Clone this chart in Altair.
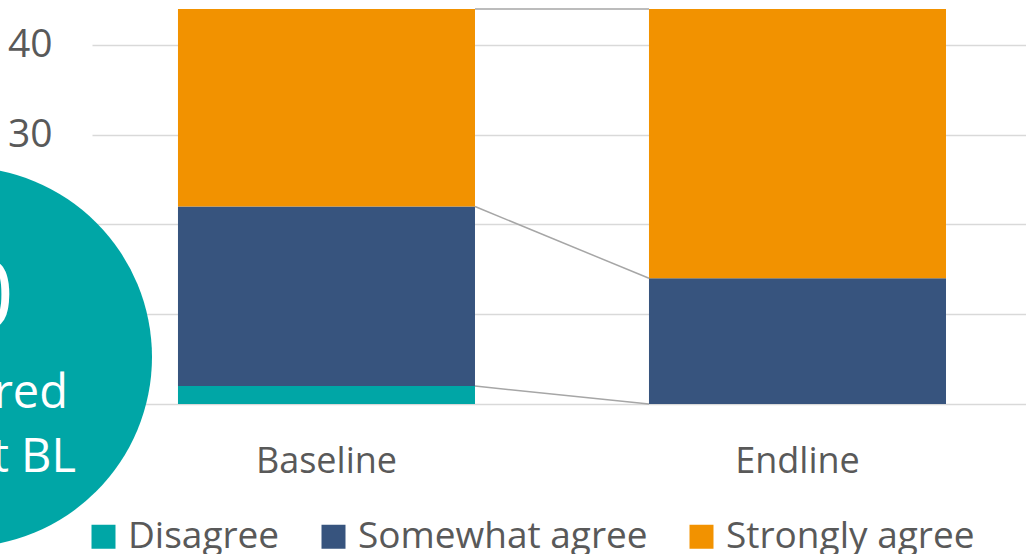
import altair as alt
import pandas as pd

# Survey waves and response categories
waves = ["Baseline", "Endline"]
responses = ["Disagree", "Somewhat agree", "Strongly agree"]
baseline_counts = [2, 20, 22]
endline_counts = [0, 14, 30]
palette = ["#00A6A6", "#37547E", "#F29200"]

y_ticks = [0, 10, 20, 30, 40]

# Call-out bubble text (one entry per line)
callout_lines = ["0", "red", "t BL"]

FONT = "Open Sans"
TEXT_GREY = "#595959"

# Long table for the stacked bars
rows = []
for wave, counts in zip(waves, [baseline_counts, endline_counts]):
    for rank, (resp, cnt) in enumerate(zip(responses, counts)):
        rows.append({"wave": wave, "response": resp, "count": cnt, "rank": rank})
bars_df = pd.DataFrame(rows)

# Series lines joining the top of each segment between the two bars
def cumulative(vals):
    out, s = [], 0
    for v in vals:
        s += v
        out.append(s)
    return out

conn_df = pd.DataFrame({
    "start_wave": [waves[0]] * len(responses),
    "end_wave": [waves[1]] * len(responses),
    "start_top": cumulative(baseline_counts),
    "end_top": cumulative(endline_counts),
})

total = sum(baseline_counts)

x_scale = alt.Scale(domain=waves, paddingInner=0.3694, paddingOuter=0.1762, align=0.518)
y_scale = alt.Scale(domain=[0, total], nice=False, zero=True)

x_axis = alt.Axis(
    title=None, labelAngle=0, labelFont=FONT, labelFontSize=36, labelColor=TEXT_GREY,
    labelBaseline="alphabetic", labelPadding=68, ticks=False, tickSize=0, domain=False,
    grid=False,
)
y_axis = alt.Axis(
    title=None, values=y_ticks, labelFont=FONT, labelFontSize=39, labelColor=TEXT_GREY,
    labelPadding=40, ticks=False, tickSize=0, domain=False, grid=True,
    gridColor="#D9D9D9", gridWidth=1.5,
)
legend = alt.Legend(
    title=None, orient="none", legendX=-7, legendY=509, direction="horizontal",
    symbolType="square", symbolSize=576, symbolStrokeWidth=0,
    labelFont=FONT, labelFontSize=37, labelColor=TEXT_GREY, labelOffset=6,
    columnPadding=35, padding=0, labelLimit=500,
)

bars = alt.Chart(bars_df).mark_bar().encode(
    x=alt.X("wave:N", scale=x_scale, axis=x_axis, sort=waves),
    y=alt.Y("count:Q", stack="zero", scale=y_scale, axis=y_axis),
    color=alt.Color("response:N", scale=alt.Scale(domain=responses, range=palette), legend=legend),
    order=alt.Order("rank:Q", sort="ascending"),
)

connectors = alt.Chart(conn_df).mark_rule(color="#A6A6A6", strokeWidth=1.5).encode(
    x=alt.X("start_wave:N", bandPosition=1),
    x2=alt.X2("end_wave", bandPosition=0),
    y=alt.Y("start_top:Q"),
    y2=alt.Y2("end_top"),
)

# Call-out bubble: Vega circle symbols have diameter sqrt(size)
bubble_df = pd.DataFrame({"k": [0]})
bubble = alt.Chart(bubble_df).mark_circle(
    size=380 * 380, color=palette[0], opacity=1, strokeWidth=0
).encode(x=alt.value(-130), y=alt.value(348))

line_specs = [(-78, 319, 95), (-24, 399, 47), (-16, 463, 47)]
texts = []
for line, (tx, ty, fs) in zip(callout_lines, line_specs):
    texts.append(
        alt.Chart(bubble_df).mark_text(
            align="right", baseline="alphabetic", font=FONT, fontSize=fs, color="white"
        ).encode(x=alt.value(tx), y=alt.value(ty), text=alt.value(line))
    )

chart = alt.layer(bars, connectors, bubble, *texts).properties(
    width=934,
    height=395,
    autosize=alt.AutoSizeParams(type="none"),
    padding={"left": 92, "top": 9, "right": 0, "bottom": 150},
    background="white",
).configure_view(stroke=None)

chart.save("out.html", embed_options={"renderer": "svg", "actions": False})
